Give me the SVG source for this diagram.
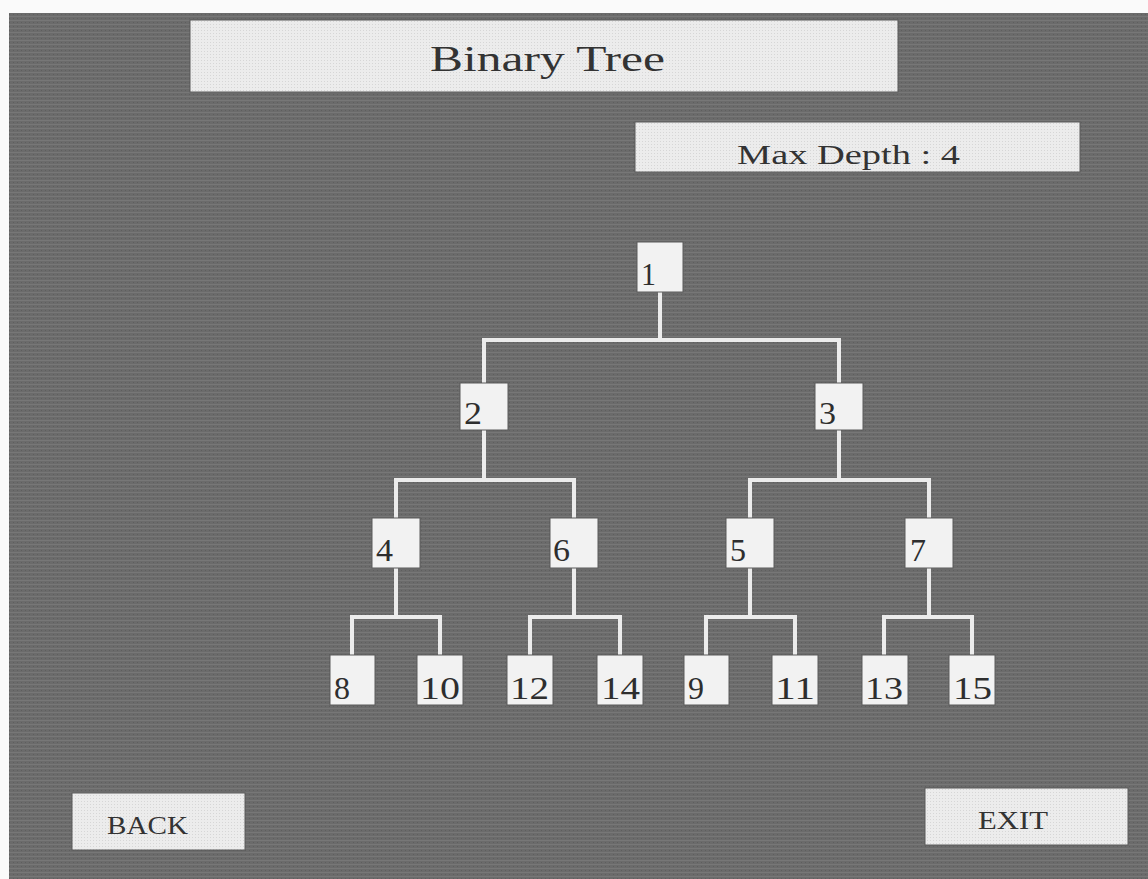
<svg xmlns="http://www.w3.org/2000/svg" width="1148" height="879" viewBox="0 0 1148 879">
<defs>
<pattern id="tex" width="4" height="4" patternUnits="userSpaceOnUse">
<rect width="4" height="4" fill="#6b6b6b"/>
<rect y="0" width="4" height="1" fill="#777"/>
<rect x="1" y="2" width="1" height="1" fill="#5e5e5e"/>
</pattern>
<pattern id="boxtex" width="3" height="3" patternUnits="userSpaceOnUse">
<rect width="3" height="3" fill="#ececec"/>
<rect width="1" height="1" fill="#d6d6d6"/>
</pattern>
</defs>
<style>
.panel{fill:url(#boxtex);stroke:#5a5a5a;stroke-width:1}
.node rect{fill:#f2f2f2;stroke:#5a5a5a;stroke-width:1}
.node text{font-family:"Liberation Serif",serif;font-size:31px;fill:#2e2e2e}
.lbl{font-family:"Liberation Serif",serif;fill:#333}
.conn{fill:none;stroke:#ececec;stroke-width:4;stroke-linejoin:miter}
</style>
<rect width="1148" height="879" fill="#fafafa"/>
<rect x="9" y="13" width="1139" height="866" fill="url(#tex)"/>

<g id="title">
<rect class="panel" x="190" y="20" width="708" height="72"/>
<text class="lbl" x="430" y="71" font-size="36" textLength="235" lengthAdjust="spacingAndGlyphs">Binary Tree</text>
</g>
<g id="maxdepth">
<rect class="panel" x="635" y="122" width="445" height="50"/>
<text class="lbl" x="737" y="164" font-size="27" textLength="223" lengthAdjust="spacingAndGlyphs">Max Depth : 4</text>
</g>

<g id="connectors">
<path class="conn" d="M660 292 V340 M484 383 V340 H839 V383"/>
<path class="conn" d="M484 430 V480 M396 518 V480 H574 V518"/>
<path class="conn" d="M839 430 V480 M750 518 V480 H929 V518"/>
<path class="conn" d="M396 568 V617 M352 655 V617 H440 V655"/>
<path class="conn" d="M574 568 V617 M530 655 V617 H620 V655"/>
<path class="conn" d="M750 568 V617 M706 655 V617 H795 V655"/>
<path class="conn" d="M929 568 V617 M884 655 V617 H972 V655"/>
</g>

<g id="n1" class="node"><rect x="637" y="242" width="46" height="50"/><text x="641" y="285" textLength="15" lengthAdjust="spacingAndGlyphs">1</text></g>
<g id="n2" class="node"><rect x="460" y="383" width="48" height="47"/><text x="464" y="424" textLength="18" lengthAdjust="spacingAndGlyphs">2</text></g>
<g id="n3" class="node"><rect x="815" y="383" width="48" height="47"/><text x="819" y="424" textLength="17" lengthAdjust="spacingAndGlyphs">3</text></g>
<g id="n4" class="node"><rect x="372" y="518" width="48" height="50"/><text x="376" y="561" textLength="17" lengthAdjust="spacingAndGlyphs">4</text></g>
<g id="n6" class="node"><rect x="550" y="518" width="48" height="50"/><text x="553" y="561" textLength="17" lengthAdjust="spacingAndGlyphs">6</text></g>
<g id="n5" class="node"><rect x="726" y="518" width="48" height="50"/><text x="730" y="561" textLength="16" lengthAdjust="spacingAndGlyphs">5</text></g>
<g id="n7" class="node"><rect x="905" y="518" width="48" height="50"/><text x="910" y="561" textLength="16" lengthAdjust="spacingAndGlyphs">7</text></g>
<g id="n8" class="node"><rect x="330" y="655" width="45" height="50"/><text x="334" y="699" textLength="16" lengthAdjust="spacingAndGlyphs">8</text></g>
<g id="n10" class="node"><rect x="417" y="655" width="46" height="50"/><text x="420" y="699" textLength="40" lengthAdjust="spacingAndGlyphs">10</text></g>
<g id="n12" class="node"><rect x="507" y="655" width="46" height="50"/><text x="510" y="699" textLength="39" lengthAdjust="spacingAndGlyphs">12</text></g>
<g id="n14" class="node"><rect x="597" y="655" width="46" height="50"/><text x="601" y="699" textLength="39" lengthAdjust="spacingAndGlyphs">14</text></g>
<g id="n9" class="node"><rect x="684" y="655" width="45" height="50"/><text x="688" y="699" textLength="16" lengthAdjust="spacingAndGlyphs">9</text></g>
<g id="n11" class="node"><rect x="772" y="655" width="46" height="50"/><text x="775" y="699" textLength="40" lengthAdjust="spacingAndGlyphs">11</text></g>
<g id="n13" class="node"><rect x="862" y="655" width="46" height="50"/><text x="865" y="699" textLength="38" lengthAdjust="spacingAndGlyphs">13</text></g>
<g id="n15" class="node"><rect x="949" y="655" width="46" height="50"/><text x="953" y="699" textLength="39" lengthAdjust="spacingAndGlyphs">15</text></g>

<g id="back">
<rect class="panel" x="72" y="793" width="173" height="57"/>
<text class="lbl" x="107" y="834" font-size="26" textLength="81" lengthAdjust="spacingAndGlyphs">BACK</text>
</g>
<g id="exit">
<rect class="panel" x="925" y="788" width="203" height="57"/>
<text class="lbl" x="978" y="829" font-size="26" textLength="70" lengthAdjust="spacingAndGlyphs">EXIT</text>
</g>
</svg>
